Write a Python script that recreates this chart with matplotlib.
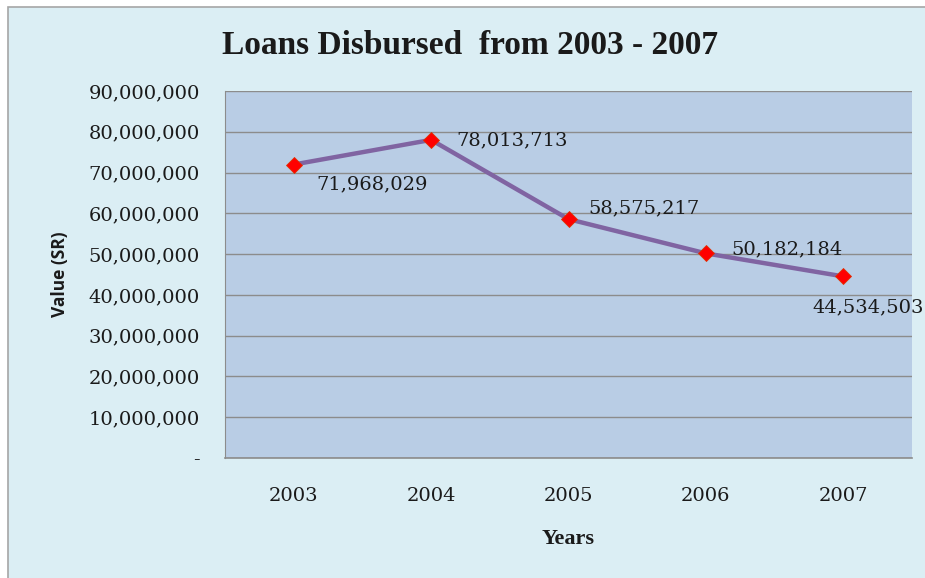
import matplotlib
matplotlib.use("Agg")
import matplotlib.pyplot as plt
from matplotlib.patches import Rectangle
from matplotlib.ticker import FuncFormatter

years = ["2003", "2004", "2005", "2006", "2007"]
loans = [71968029, 78013713, 58575217, 50182184, 44534503]
y_ticks = [0, 10000000, 20000000, 30000000, 40000000, 50000000,
           60000000, 70000000, 80000000, 90000000]

# label placement relative to each point (offset in points, alignment)
label_pos = [
    ((16, -14), "left", "center"),
    ((18, 0), "left", "center"),
    ((14, 8), "left", "center"),
    ((18, 3), "left", "center"),
    ((-22, -22), "left", "center"),
]

serif = ["Liberation Serif", "DejaVu Serif"]
num_font = ["DejaVu Serif"]
fig = plt.figure(figsize=(9.25, 5.78), dpi=100)
fig.patch.set_facecolor("white")

# chart area background with thin gray frame
frame = Rectangle((8 / 925, -0.05), 1.1, 1.05 - 7 / 578, transform=fig.transFigure,
                  facecolor="#dbeef4", edgecolor="#a6a6a6", linewidth=1.2,
                  zorder=-10)
fig.patches.append(frame)

ax = fig.add_axes([225 / 925, (578 - 458) / 578, (912 - 225) / 925, (458 - 91) / 578])
ax.set_zorder(1)
ax.set_facecolor("#b9cde5")

x = list(range(len(years)))
ax.plot(x, loans, color="#8064a2", linewidth=3.2, zorder=3,
        marker="D", markersize=8.5, markerfacecolor="#ff0000",
        markeredgecolor="#e03000", markeredgewidth=0.6)

for xi, v, (off, ha, va) in zip(x, loans, label_pos):
    ax.annotate(f"{v:,}", (xi, v), xytext=off, textcoords="offset points",
                ha=ha, va=va, fontsize=14, family=num_font, color="#1a1a1a",
                annotation_clip=False, zorder=4)

ax.set_xlim(-0.5, len(years) - 0.5)
ax.set_ylim(0, 90000000)
ax.set_yticks(y_ticks)
ax.yaxis.set_major_formatter(FuncFormatter(lambda v, p: "-" if v == 0 else f"{int(v):,}"))
ax.set_xticks(x)
ax.set_xticklabels(years)
ax.grid(axis="y", color="#8c8c8c", linewidth=1.0)
ax.set_axisbelow(True)

for lab in ax.get_yticklabels() + ax.get_xticklabels():
    lab.set_family(num_font)
    lab.set_fontsize(14)
    lab.set_color("#1a1a1a")
ax.tick_params(axis="y", length=0, pad=18)
ax.tick_params(axis="x", length=0, pad=21)

for side in ("top", "right"):
    ax.spines[side].set_visible(False)
ax.spines["left"].set_color("#8c8c8c")
ax.spines["bottom"].set_color("#8c8c8c")
ax.spines["bottom"].set_linewidth(1.2)

ax.set_ylabel("Value (SR)", family=["Open Sans", "DejaVu Sans"], fontweight="bold",
              fontsize=12.5, color="#1a1a1a", labelpad=14)
ax.set_xlabel("Years", family=serif, fontweight="bold", fontsize=16,
              color="#1a1a1a", labelpad=17)

fig.text(470 / 925, 1 - 45 / 578, "Loans Disbursed  from 2003 - 2007",
         ha="center", va="center", family=serif, fontweight="bold",
         fontsize=24, color="#1a1a1a")

fig.savefig("out.png", dpi=100, facecolor=fig.get_facecolor())
